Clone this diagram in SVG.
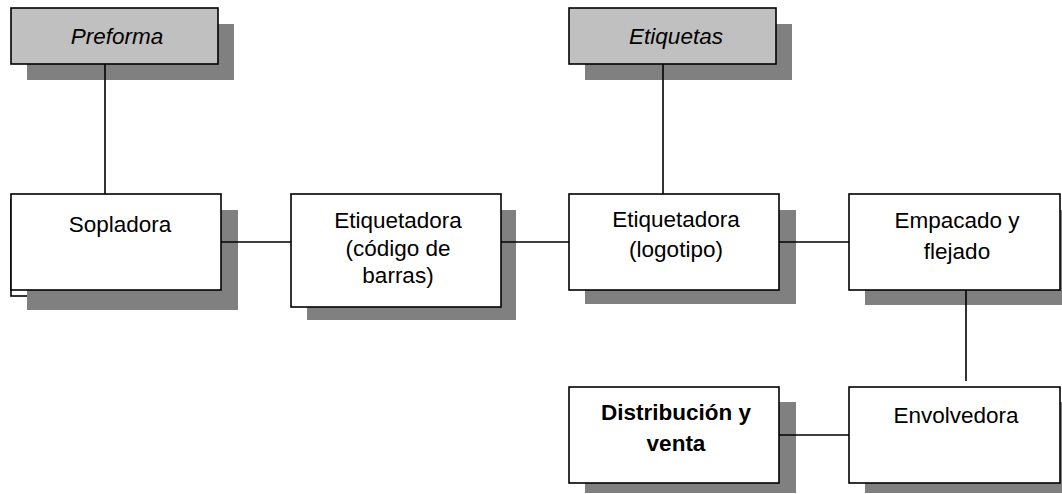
<svg xmlns="http://www.w3.org/2000/svg" width="1062" height="494" viewBox="0 0 1062 494">
<style>
.sh{fill:#808080}
.bx{fill:#fff;stroke:#000;stroke-width:1.6}
.gb{fill:#c0c0c0;stroke:#000;stroke-width:1.6}
.t{font-family:"Liberation Sans",Arial,sans-serif;font-size:22.5px;fill:#000;text-anchor:middle}
.i{font-style:italic}
.b{font-weight:bold}
.c{stroke:#000;stroke-width:1.6;fill:none}
</style>
<rect width="1062" height="494" fill="#fff"/>
<g id="preforma">
<rect class="sh" x="27" y="24" width="207" height="56"/>
<rect class="gb" x="11" y="8" width="207" height="56"/>
<text class="t i" x="117" y="44">Preforma</text>
</g>
<g id="etiquetas">
<rect class="sh" x="585" y="24" width="207" height="56"/>
<rect class="gb" x="569" y="8" width="207" height="56"/>
<text class="t i" x="676" y="44">Etiquetas</text>
</g>
<g id="sopladora">
<rect class="bx" x="11" y="200" width="200" height="96"/>
<rect class="sh" x="27" y="210" width="211" height="100"/>
<rect class="bx" x="11" y="194" width="210" height="96"/>
<text class="t" x="120" y="232">Sopladora</text>
</g>
<g id="etiquetadora-codigo">
<rect class="sh" x="307" y="210" width="209" height="110"/>
<rect class="bx" x="291" y="194" width="210" height="113"/>
<text class="t" x="398" y="228">Etiquetadora</text>
<text class="t" x="398" y="256">(código de</text>
<text class="t" x="398" y="283">barras)</text>
</g>
<g id="etiquetadora-logotipo">
<rect class="sh" x="585" y="210" width="211" height="94"/>
<rect class="bx" x="569" y="194" width="210" height="96"/>
<text class="t" x="676" y="227">Etiquetadora</text>
<text class="t" x="676" y="257">(logotipo)</text>
</g>
<g id="empacado">
<rect class="sh" x="865" y="210" width="212" height="95"/>
<rect class="bx" x="849" y="194" width="211" height="96"/>
<text class="t" x="957" y="228">Empacado y</text>
<text class="t" x="957" y="259">flejado</text>
</g>
<g id="distribucion">
<rect class="sh" x="585" y="402" width="211" height="91"/>
<rect class="bx" x="569" y="387" width="210" height="96"/>
<text class="t b" x="676" y="420">Distribución y</text>
<text class="t b" x="676" y="451">venta</text>
</g>
<g id="envolvedora">
<rect class="sh" x="865" y="402" width="212" height="91"/>
<rect class="bx" x="849" y="387" width="211" height="96"/>
<text class="t" x="956" y="423">Envolvedora</text>
</g>
<g id="connectors">
<line class="c" x1="105" y1="64" x2="105" y2="194"/>
<line class="c" x1="663" y1="64" x2="663" y2="194"/>
<line class="c" x1="221" y1="242" x2="291" y2="242"/>
<line class="c" x1="501" y1="242" x2="569" y2="242"/>
<line class="c" x1="779" y1="242" x2="849" y2="242"/>
<line class="c" x1="966" y1="290" x2="966" y2="381"/>
<line class="c" x1="779" y1="435" x2="849" y2="435"/>
</g>
</svg>
